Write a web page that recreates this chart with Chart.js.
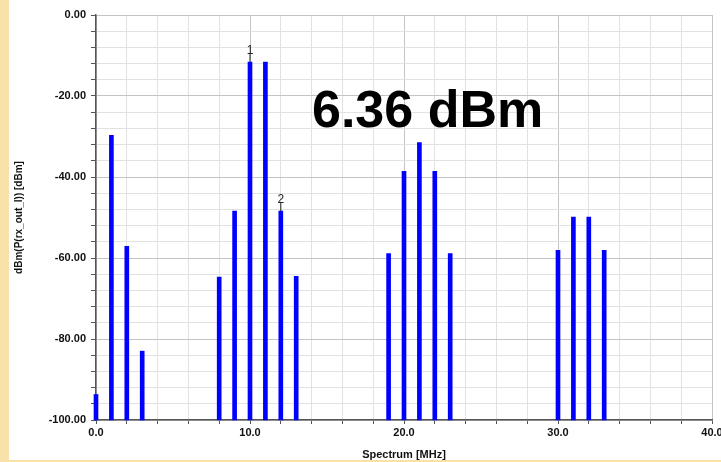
<!DOCTYPE html>
<html>
<head>
<meta charset="utf-8">
<script src="https://cdn.jsdelivr.net/npm/chart.js@4/dist/chart.umd.min.js"></script>
<style>
  html, body { margin: 0; padding: 0; background: #fff; }
  canvas { display: block; }
</style>
</head>
<body>
<canvas id="spectrumChart" width="721" height="462"></canvas>
<script>
// Spectrum tones (MHz, dBm)
const freqs  = [0, 1, 2, 3, 8, 9, 10, 11, 12, 13, 19, 20, 21, 22, 23, 30, 31, 32, 33];
const levels = [-93.7, -29.7, -57.1, -83.0, -64.7, -48.4, -11.6, -11.6, -48.4, -64.5,
                -58.9, -38.6, -31.5, -38.6, -58.9, -58.1, -49.9, -49.9, -58.1];
const floorLevel = -100;

// marker labels placed above tones
const markerFreqs  = [10, 12];
const markerLabels = ['1', '2'];

const powerText = '6.36 dBm';

const FONT = '"Liberation Sans", Arial, sans-serif';

// stems drawn as floating bars from the floor up to the level
const stemData = freqs.map((f, i) => ({ x: f, y: [floorLevel, levels[i]] }));

const decorPlugin = {
    id: 'decor',
    beforeDraw(chart) {
        const c = chart.ctx;
        c.save();
        c.fillStyle = '#fff';
        c.fillRect(0, 0, chart.width, chart.height);
        c.fillStyle = '#f9e1a9';
        c.fillRect(0, 0, 9, chart.height);
        c.fillRect(0, chart.height - 2, chart.width, 2);
        c.restore();
    },
    afterDraw(chart) {
        const c = chart.ctx;
        const xs = chart.scales.x, ys = chart.scales.y;
        c.save();
        // markers
        c.fillStyle = '#222';
        c.strokeStyle = '#222';
        c.lineWidth = 1;
        c.font = '12px ' + FONT;
        c.textAlign = 'center';
        c.textBaseline = 'alphabetic';
        markerFreqs.forEach((f, i) => {
            const idx = freqs.indexOf(f);
            const px = xs.getPixelForValue(f);
            const py = ys.getPixelForValue(levels[idx]);
            c.fillText(markerLabels[i], px, py - 8);
            c.beginPath();
            c.moveTo(px, py - 8);
            c.lineTo(px, py);
            c.stroke();
        });
        // big power readout
        c.fillStyle = '#000';
        c.font = 'bold 52px ' + FONT;
        c.textAlign = 'left';
        c.fillText(powerText, 312, 127);
        c.restore();
    }
};

const ctx = document.getElementById('spectrumChart').getContext('2d');

const spectrumChart = new Chart(ctx, {
    type: 'bar',
    data: {
        datasets: [{
            data: stemData,
            backgroundColor: '#0000ff',
            borderWidth: 0,
            barThickness: 4,
            borderSkipped: false,
            clip: false
        }]
    },
    options: {
        responsive: false,
        animation: false,
        devicePixelRatio: 1,
        layout: { padding: { left: 0, top: 15, right: 9, bottom: 0 } },
        plugins: {
            legend: { display: false },
            tooltip: { enabled: false }
        },
        scales: {
            x: {
                type: 'linear',
                min: 0,
                max: 40,
                offset: false,
                afterFit(scale) {
                    scale.height = 42;
                    scale.paddingLeft = 0;
                    scale.paddingRight = 0;
                },
                grid: {
                    offset: false,
                    color: (c) => (c.tick && c.tick.value % 10 === 0) ? '#c4c4c4' : '#e2e2e2',
                    lineWidth: 1,
                    tickLength: 4,
                    tickColor: '#555'
                },
                border: { color: '#555', width: 1.5 },
                ticks: {
                    stepSize: 2,
                    autoSkip: false,
                    maxRotation: 0,
                    padding: 2,
                    color: '#111',
                    font: { family: FONT, size: 11, weight: 'bold' },
                    callback: (v) => v % 10 === 0 ? v.toFixed(1) : ''
                },
                title: {
                    display: true,
                    text: 'Spectrum [MHz]',
                    color: '#111',
                    font: { family: FONT, size: 11, weight: 'bold' },
                    padding: { top: 5, bottom: 0 }
                }
            },
            y: {
                min: -100,
                max: 0,
                afterFit(scale) { scale.width = 96; },
                grid: {
                    color: (c) => (c.tick && c.tick.value % 20 === 0) ? '#c4c4c4' : '#e2e2e2',
                    lineWidth: 1,
                    tickLength: 5,
                    tickColor: '#555'
                },
                border: { color: '#555', width: 1.5 },
                ticks: {
                    stepSize: 4,
                    autoSkip: false,
                    padding: 5,
                    color: '#111',
                    font: { family: FONT, size: 11, weight: 'bold' },
                    callback: (v) => v % 20 === 0 ? v.toFixed(2) : ''
                },
                title: {
                    display: true,
                    text: 'dBm(P(rx_out_l)) [dBm]',
                    color: '#111',
                    font: { family: FONT, size: 10, weight: 'bold' },
                    padding: { top: 13, bottom: 0 }
                }
            }
        }
    },
    plugins: [decorPlugin]
});
</script>
</body>
</html>
